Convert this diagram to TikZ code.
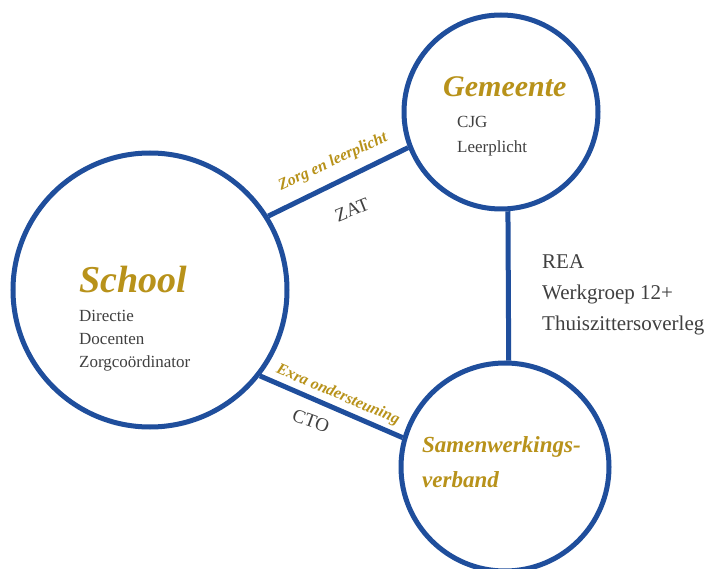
\documentclass[tikz,border=0pt]{standalone}
\usepackage{fontspec}
\setmainfont{Liberation Serif}
\definecolor{cblue}{HTML}{1F4E9C}
\definecolor{cgold}{HTML}{B8921A}
\definecolor{ctext}{HTML}{404040}
\begin{document}
\begin{tikzpicture}[x=1pt,y=-1pt,
  circ/.style={circle,draw=cblue,line width=5pt,inner sep=0pt},
  link/.style={draw=cblue,line width=5pt},
  title/.style={text=cgold,inner sep=0pt,anchor=base west},
  item/.style={text=ctext,inner sep=0pt,anchor=base west,font=\fontsize{17}{20}\selectfont},
  ritem/.style={text=ctext,inner sep=0pt,anchor=base west,font=\fontsize{21}{24}\selectfont},
  elab/.style={text=cgold,inner sep=0pt,font=\bfseries\itshape\fontsize{16}{18}\selectfont},
  rlab/.style={text=ctext,inner sep=0pt,font=\fontsize{19}{21}\selectfont}]
\useasboundingbox (0,0) rectangle (710,569);
\fill[white] (0,0) rectangle (710,569);

\node[circ,minimum size=274pt] (school) at (150,290) {};
\node[circ,minimum size=194pt] (gem) at (501,112) {};
\node[circ,minimum size=208pt] (sam) at (505,467) {};

\draw[link] (school.32) -- (gem.201);
\draw[link] (school.-38) -- (sam.164);
\draw[link] (gem.-86.5) -- (sam.88.3);

\node[title,font=\bfseries\itshape\fontsize{38}{40}\selectfont] (tschool) at (79,293) {School};
\node[item] (s1) at (79,322) {Directie};
\node[item] (s2) at (79,345) {Docenten};
\node[item] (s3) at (79,368) {Zorgcoördinator};

\node[title,font=\bfseries\itshape\fontsize{30}{32}\selectfont] (tgem) at (443,97) {Gemeente};
\node[item] (g1) at (457,128) {CJG};
\node[item] (g2) at (457,153) {Leerplicht};

\node[title,font=\bfseries\itshape\fontsize{23}{26}\selectfont] (tsam1) at (422,453) {Samenwerkings-};
\node[title,font=\bfseries\itshape\fontsize{23}{26}\selectfont] (tsam2) at (422,487) {verband};

\node[ritem] (r1) at (542,269) {REA};
\node[ritem] (r2) at (542,300) {Werkgroep 12+};
\node[ritem] (r3) at (542,331) {Thuiszittersoverleg};

\node[elab,rotate=25] (lzorg) at (333,162) {Zorg en leerplicht};
\node[rlab,rotate=22] (lzat) at (352,210) {ZAT};
\node[elab,rotate=-23] (lexra) at (338,395) {Exra ondersteuning};
\node[rlab,rotate=-20] (lcto) at (311,421) {CTO};
\end{tikzpicture}
\end{document}
